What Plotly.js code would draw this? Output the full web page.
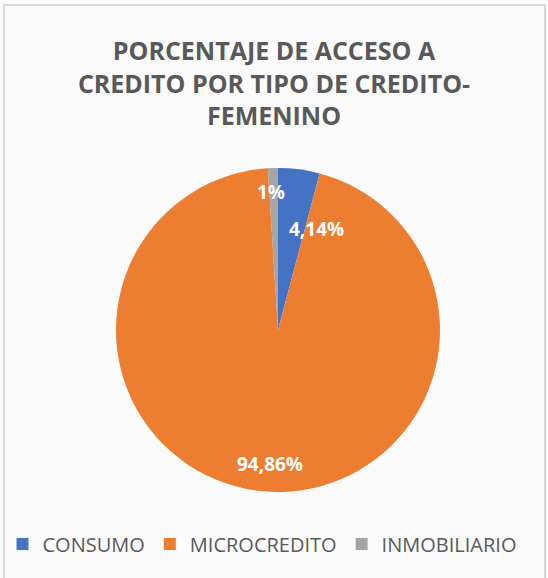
<!DOCTYPE html>
<html><head><meta charset="utf-8">
<script src="https://cdn.plot.ly/plotly-3.0.1.min.js"></script>
<style>html,body{margin:0;padding:0;background:#fff}#c{width:548px;height:578px}</style>
</head><body><div id="c"></div>
<script>
const categories = ["CONSUMO", "MICROCREDITO", "INMOBILIARIO"];
const values = [4.14, 94.86, 1];
const valueLabels = ["4,14%", "94,86%", "1%"];
const colors = ["#4472C4", "#ED7D31", "#A5A5A5"];

const W = 548, H = 578;
const pie = {l: 116, r: 440, t: 168, b: 492};
const cxPx = (pie.l + pie.r) / 2, cyPx = (pie.t + pie.b) / 2, R = (pie.r - pie.l) / 2;

// label placement (Excel "best fit"-like): angular offset from slice mid-angle and radius fraction
const labelAngleOffset = [13.5, -2.3, -1.0];
const labelRadiusFrac = [0.67, 0.83, 0.85];

const total = values.reduce((a, b) => a + b, 0);
let cum = 0;
const annotations = values.map((v, i) => {
  const mid = (cum + v / 2) / total * 360;
  cum += v;
  const ang = (mid + labelAngleOffset[i]) * Math.PI / 180;
  const r = R * labelRadiusFrac[i];
  const px = cxPx + r * Math.sin(ang), py = cyPx - r * Math.cos(ang);
  return {
    text: "<b>" + valueLabels[i] + "</b>", xref: "paper", yref: "paper",
    x: px / W, y: 1 - py / H, xanchor: "center", yanchor: "middle", showarrow: false,
    font: {family: "Open Sans, sans-serif", size: 19, color: "#ffffff"}
  };
});

const trace = {
  type: "pie",
  labels: categories,
  values: values,
  textinfo: "none",
  marker: {colors: colors, line: {width: 0}},
  sort: false,
  direction: "clockwise",
  rotation: 0,
  domain: {x: [pie.l / W, pie.r / W], y: [1 - pie.b / H, 1 - pie.t / H]},
  hoverinfo: "none"
};

const layout = {
  width: W, height: H,
  margin: {l: 0, r: 0, t: 0, b: 0},
  paper_bgcolor: "#fbfbfb",
  title: {
    text: "<b>PORCENTAJE DE ACCESO A<br>CREDITO POR TIPO DE CREDITO-<br>FEMENINO</b>",
    font: {family: "Open Sans, sans-serif", size: 25, color: "#595959"},
    x: 0.5, xanchor: "center", y: 1 - 60 / H, yanchor: "middle"
  },
  showlegend: true,
  legend: {
    orientation: "h", x: 0.5 - 12 / W, xanchor: "center", y: 1 - 544 / H, yanchor: "middle",
    font: {family: "Open Sans, sans-serif", size: 20, color: "#595959"},
    traceorder: "normal", itemwidth: 30, bgcolor: "rgba(0,0,0,0)"
  },
  annotations: annotations,
  shapes: [{type: "rect", xref: "paper", yref: "paper", x0: 4 / W, x1: 1 - 3 / W, y0: -0.02, y1: 1 - 5 / H,
            line: {color: "#d9d9d9", width: 2}}]
};

Plotly.newPlot("c", [trace], layout, {displayModeBar: false, staticPlot: true});
</script>
</body></html>
